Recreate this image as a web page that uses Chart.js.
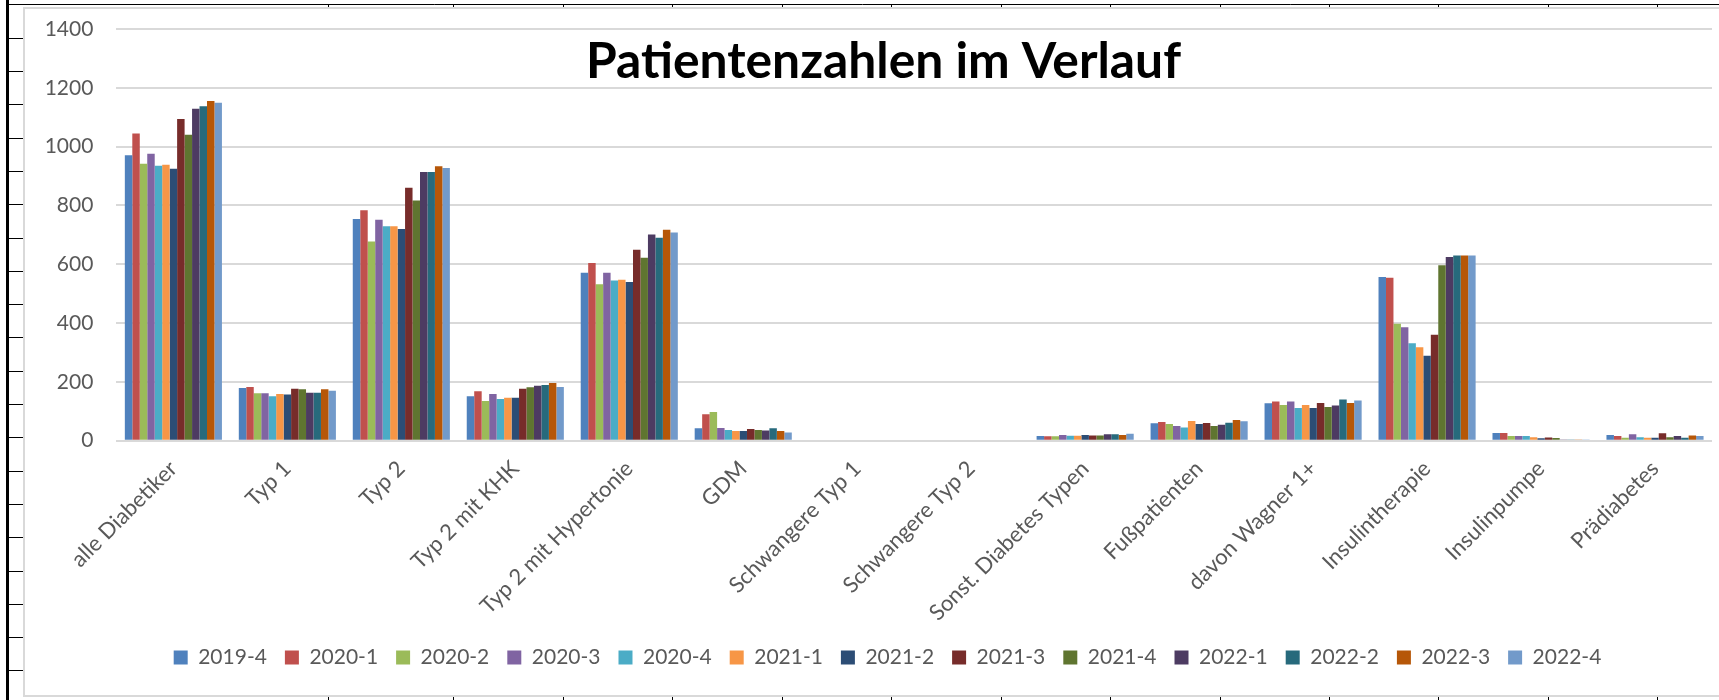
<!DOCTYPE html>
<html>
<head>
<meta charset="utf-8">
<script src="https://cdn.jsdelivr.net/npm/chart.js@4/dist/chart.umd.min.js"></script>
<style>
  html, body { margin: 0; padding: 0; background: #fff; }
  #wrap { width: 1719px; height: 700px; }
</style>
</head>
<body>
<div id="wrap"><canvas id="patChart" width="1719" height="700"></canvas></div>
<script>
const categories = ['alle Diabetiker', 'Typ 1', 'Typ 2', 'Typ 2 mit KHK', 'Typ 2 mit Hypertonie', 'GDM',
    'Schwangere Typ 1', 'Schwangere Typ 2', 'Sonst. Diabetes Typen', 'Fußpatienten', 'davon Wagner 1+',
    'Insulintherapie', 'Insulinpumpe', 'Prädiabetes'];

const quarters = ['2019-4', '2020-1', '2020-2', '2020-3', '2020-4', '2021-1', '2021-2',
    '2021-3', '2021-4', '2022-1', '2022-2', '2022-3', '2022-4'];

const q2019_4 = [971, 179, 754, 151, 571, 42, 0, 0, 16, 59, 127, 557, 26, 19];
const q2020_1 = [1045, 183, 784, 168, 604, 90, 0, 0, 15, 64, 133, 554, 26, 16];
const q2020_2 = [942, 161, 677, 135, 532, 98, 0, 0, 15, 57, 121, 398, 16, 10];
const q2020_3 = [976, 161, 751, 159, 571, 43, 0, 0, 19, 50, 133, 386, 16, 22];
const q2020_4 = [935, 151, 729, 142, 545, 36, 0, 0, 17, 45, 111, 331, 16, 12];
const q2021_1 = [938, 159, 729, 146, 547, 33, 0, 0, 17, 67, 121, 318, 12, 10];
const q2021_2 = [925, 157, 720, 146, 540, 33, 0, 0, 19, 57, 111, 289, 8, 10];
const q2021_3 = [1094, 177, 860, 177, 649, 40, 0, 0, 18, 60, 128, 360, 11, 25];
const q2021_4 = [1040, 175, 817, 182, 622, 36, 0, 0, 18, 50, 115, 597, 9, 12];
const q2022_1 = [1129, 163, 914, 187, 701, 35, 0, 0, 22, 54, 120, 625, 2, 16];
const q2022_2 = [1137, 163, 914, 189, 690, 42, 0, 0, 22, 61, 140, 630, 2, 10];
const q2022_3 = [1155, 175, 933, 196, 717, 33, 0, 0, 19, 70, 128, 630, 2, 18];
const q2022_4 = [1149, 170, 927, 183, 708, 28, 0, 0, 24, 66, 137, 630, 2, 16];

const yTicks = [0, 200, 400, 600, 800, 1000, 1200, 1400];

const seriesValues = [q2019_4, q2020_1, q2020_2, q2020_3, q2020_4, q2021_1, q2021_2,
    q2021_3, q2021_4, q2022_1, q2022_2, q2022_3, q2022_4];

// Excel 2010 office palette
const colors = ['#4F81BD', '#C0504D', '#9BBB59', '#8064A2', '#4BACC6', '#F79646', '#2C4D75',
    '#772C2A', '#5F7530', '#4D3B62', '#276A7C', '#B65708', '#729ACA'];

const titleText = 'Patientenzahlen im Verlauf';

// spreadsheet grid behind the chart object + the chart object frame
const sheetBackdrop = {
    id: 'sheetBackdrop',
    beforeDraw(chart) {
        const c = chart.ctx;
        const W = chart.width, H = chart.height;
        c.save();
        c.fillStyle = '#fff';
        c.fillRect(0, 0, W, H);
        c.strokeStyle = '#000';
        // left thick line + row stubs
        c.lineWidth = 3;
        c.beginPath(); c.moveTo(7.5, 0); c.lineTo(7.5, H); c.stroke();
        c.lineWidth = 1;
        for (let y = 37.7; y < H; y += 33.3) {
            c.beginPath(); c.moveTo(9, Math.round(y) + 0.5); c.lineTo(23, Math.round(y) + 0.5); c.stroke();
        }
        // top line + column stubs
        c.beginPath(); c.moveTo(6, 4.5); c.lineTo(W, 4.5); c.stroke();
        const cols = [328, 453, 563, 672, 782, 891, 1001, 1110, 1220, 1329, 1438, 1548, 1657];
        cols.forEach(x => {
            c.beginPath(); c.moveTo(x + 0.5, 4); c.lineTo(x + 0.5, 8); c.stroke();
            c.beginPath(); c.moveTo(x + 0.5, 696); c.lineTo(x + 0.5, H); c.stroke();
        });
        // chart object frame
        c.strokeStyle = '#d9d9d9';
        c.lineWidth = 2;
        c.beginPath();
        c.moveTo(W + 2, 8);
        c.lineTo(24, 8);
        c.lineTo(24, 696);
        c.lineTo(W + 2, 696);
        c.stroke();
        c.restore();
    },
    afterLayout(chart) {
        // nudge legend row to sit where Excel put it
        chart.legend.left += 20;
        chart.legend.right += 20;
    },
    afterDraw(chart) {
        const c = chart.ctx;
        c.save();
        c.font = 'bold 49px Lato';
        c.fillStyle = '#000';
        c.textBaseline = 'alphabetic';
        const w = c.measureText(titleText).width;
        const targetW = 595;
        c.translate(586, 78);
        c.scale(targetW / w, 1);
        c.fillText(titleText, 0, 0);
        c.restore();
    }
};

const ctx = document.getElementById('patChart').getContext('2d');
const patChart = new Chart(ctx, {
    type: 'bar',
    data: {
        labels: categories,
        datasets: quarters.map((q, i) => ({
            label: q,
            data: seriesValues[i],
            backgroundColor: colors[i],
            borderWidth: 0,
            categoryPercentage: 0.852,
            barPercentage: 1.0,
        }))
    },
    options: {
        responsive: false,
        animation: false,
        layout: {
            padding: { left: 23, right: 7, top: 29, bottom: 22 }
        },
        scales: {
            y: {
                min: 0,
                max: 1400,
                afterFit(scale) { scale.width = 93.4; },
                afterBuildTicks(scale) { scale.ticks = yTicks.map(v => ({ value: v })); },
                grid: {
                    color: '#d9d9d9',
                    lineWidth: 2,
                    drawTicks: true,
                    tickLength: 23,
                    tickColor: 'rgba(0,0,0,0)',
                },
                border: { display: false },
                ticks: {
                    padding: 0,
                    color: '#595959',
                    font: { family: 'Lato', size: 21 },
                    callback: (v) => String(v),
                },
            },
            x: {
                afterFit(scale) { scale.height = 188.3; },
                grid: { display: false, drawTicks: false },
                border: { display: false },
                ticks: {
                    minRotation: 45,
                    maxRotation: 45,
                    autoSkip: false,
                    padding: 15,
                    color: '#595959',
                    font: { family: 'Lato', size: 22 },
                },
            }
        },
        plugins: {
            legend: {
                position: 'bottom',
                labels: {
                    boxWidth: 14,
                    boxHeight: 14,
                    padding: 18,
                    color: '#595959',
                    font: { family: 'Lato', size: 21 },
                },
            },
            tooltip: { enabled: false },
        },
    },
    plugins: [sheetBackdrop]
});
</script>
</body>
</html>
